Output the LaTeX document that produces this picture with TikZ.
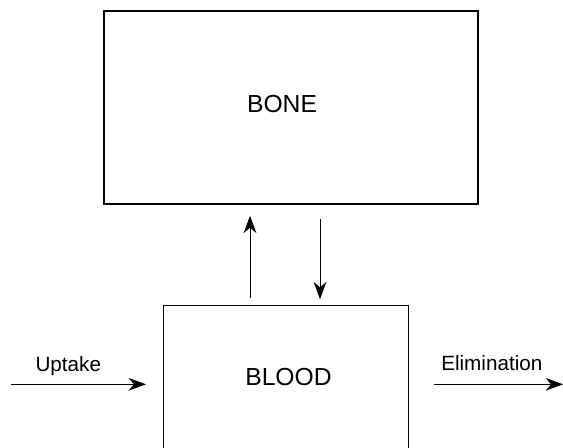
\documentclass[tikz,border=0pt]{standalone}
\usepackage{fontspec}
\setmainfont{Liberation Sans}
\usetikzlibrary{arrows.meta,calc,positioning}
\newcommand{\boxfont}{\fontsize{18.5}{22}\selectfont}
\newcommand{\lblfont}{\fontsize{15.5}{18}\selectfont}

\begin{document}
\begin{tikzpicture}[x=0.75pt,y=-0.75pt,>={Stealth[length=13pt,width=9.5pt,inset=4pt]},
    comp/.style={draw,rectangle,line width=1pt,inner sep=0pt},
    flow/.style={->,line width=0.75pt,black}]
  \clip (0,0) rectangle (563,447);
  \node[comp,minimum width=280.5pt,minimum height=144.75pt] (bone) at (291,107.5) {};
  \node[comp,minimum width=183.75pt,minimum height=150pt] (blood) at (285.8,405.7) {};
  \node[anchor=base] (bonetxt) at (282,112.3) {\boxfont BONE};
  \node[anchor=base] (bloodtxt) at (288.5,385.7) {\boxfont BLOOD};

  \coordinate (upx) at (250,0);
  \coordinate (downx) at (320,0);
  \coordinate (in) at (10.7,384.3);
  \coordinate (out) at (563,384.3);

  \draw[flow,shorten <=5pt,shorten >=8.25pt] (blood.north -| upx) -- (bone.south -| upx);
  \draw[flow,shorten <=10.7pt,shorten >=4.3pt] (bone.south -| downx) -- (blood.north -| downx);
  \draw[flow,shorten >=12.5pt] (in) -- (blood.west |- in);
  \draw[flow,shorten <=18.75pt] (blood.east |- out) -- (out);

  \node[anchor=base] (uptake) at (68.3,371.7) {\lblfont Uptake};
  \node[anchor=base] (elim) at (491.8,370) {\lblfont Elimination};
\end{tikzpicture}
\end{document}
